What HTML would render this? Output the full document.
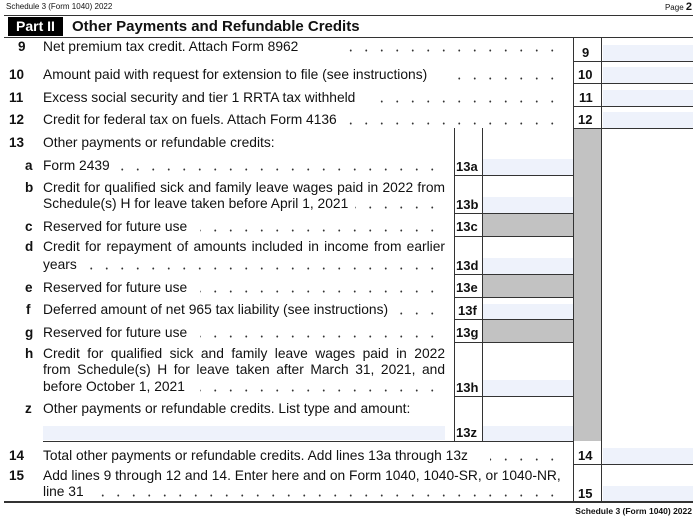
<!DOCTYPE html>
<html><head><meta charset="utf-8"><style>
*{margin:0;padding:0;box-sizing:border-box}
body{width:700px;height:520px;background:#fff;position:relative;overflow:hidden;font-family:"Liberation Sans",Arial,sans-serif;color:#111}
.a{position:absolute}
.t{position:absolute;font-size:13.8px;line-height:16px;height:16px;white-space:nowrap}
.j{position:absolute;font-size:13.8px;line-height:16px;height:16px;white-space:nowrap;width:398px;text-align:justify;text-align-last:justify}
.n{position:absolute;font-size:13.5px;font-weight:bold;line-height:16px;height:16px}
.l{position:absolute;font-size:13.5px;font-weight:bold;line-height:16px;height:16px}
.d{position:absolute;height:16px;background-image:radial-gradient(circle at 50% 72%,#333 0.8px,transparent 1.1px);background-size:15.5px 16px;background-position:right 0;background-repeat:repeat-x}
.hl{position:absolute;background:#333;height:1.5px}
.vl{position:absolute;background:#333;width:1.5px}
.blue{position:absolute;background:#eef2fb}
.gray{position:absolute;background:#c2c2c2}
.bl{position:absolute;font-size:13px;font-weight:bold;line-height:16px}
</style></head><body>
<div class="a" style="left:6px;top:2px;font-size:8px">Schedule 3 (Form 1040) 2022</div>
<div class="a" style="right:8px;top:1px;font-size:8px">Page <b style="font-size:11px">2</b></div>
<div class="hl" style="left:4px;width:689px;top:14.5px;height:1.5px"></div>
<div class="a" style="left:8px;top:17px;width:55px;height:19px;background:#000;color:#fff;font-weight:bold;font-size:14px;line-height:19px;text-align:center">Part II</div>
<div class="a" style="left:72px;top:17px;font-weight:bold;font-size:15px;line-height:19px">Other Payments and Refundable Credits</div>
<div class="hl" style="left:4px;width:689px;top:36.5px"></div>

<div class="gray" style="left:573px;top:128px;width:28px;height:313px"></div>
<div class="blue" style="left:603px;top:45px;width:90px;height:16px"></div>
<div class="blue" style="left:603px;top:67px;width:90px;height:16px"></div>
<div class="blue" style="left:603px;top:90px;width:90px;height:16px"></div>
<div class="blue" style="left:603px;top:112px;width:90px;height:16px"></div>
<div class="blue" style="left:483px;top:159px;width:90px;height:16px"></div>
<div class="blue" style="left:483px;top:197px;width:90px;height:16px"></div>
<div class="gray" style="left:483px;top:213px;width:90px;height:23px"></div>
<div class="blue" style="left:483px;top:258px;width:90px;height:16px"></div>
<div class="gray" style="left:483px;top:274px;width:90px;height:23px"></div>
<div class="blue" style="left:483px;top:304px;width:90px;height:15px"></div>
<div class="gray" style="left:483px;top:319px;width:90px;height:23px"></div>
<div class="blue" style="left:483px;top:380px;width:90px;height:16px"></div>
<div class="blue" style="left:483px;top:426px;width:90px;height:15px"></div>
<div class="blue" style="left:43px;top:426px;width:402px;height:14px"></div>
<div class="blue" style="left:603px;top:448px;width:90px;height:16px"></div>
<div class="blue" style="left:603px;top:486px;width:90px;height:16px"></div>

<div class="vl" style="left:572.5px;top:37px;height:465px"></div>
<div class="vl" style="left:600.5px;top:37px;height:465px"></div>
<div class="vl" style="left:453.5px;top:128px;height:313px"></div>
<div class="vl" style="left:481.5px;top:128px;height:313px"></div>
<div class="hl" style="left:573px;width:120px;top:60.5px"></div>
<div class="hl" style="left:573px;width:120px;top:82.5px"></div>
<div class="hl" style="left:573px;width:120px;top:105.5px"></div>
<div class="hl" style="left:573px;width:120px;top:127.5px"></div>
<div class="hl" style="left:454px;width:119px;top:174.5px"></div>
<div class="hl" style="left:454px;width:119px;top:212.5px"></div>
<div class="hl" style="left:454px;width:119px;top:235.5px"></div>
<div class="hl" style="left:454px;width:119px;top:273.5px"></div>
<div class="hl" style="left:454px;width:119px;top:296.5px"></div>
<div class="hl" style="left:454px;width:119px;top:318.5px"></div>
<div class="hl" style="left:454px;width:119px;top:341.5px"></div>
<div class="hl" style="left:454px;width:119px;top:395.5px"></div>
<div class="hl" style="left:43px;width:530px;top:440.5px"></div>
<div class="hl" style="left:573px;width:120px;top:463.5px"></div>
<div class="hl" style="left:4px;width:689px;top:501px;height:2px"></div>

<div class="bl" style="left:582px;top:45px">9</div>
<div class="bl" style="left:578px;top:67px">10</div>
<div class="bl" style="left:579px;top:90px">11</div>
<div class="bl" style="left:578px;top:112px">12</div>
<div class="bl" style="left:456px;top:159px">13a</div>
<div class="bl" style="left:456px;top:197px">13b</div>
<div class="bl" style="left:456px;top:219px">13c</div>
<div class="bl" style="left:456px;top:258px">13d</div>
<div class="bl" style="left:456px;top:280px">13e</div>
<div class="bl" style="left:458px;top:303px">13f</div>
<div class="bl" style="left:456px;top:325px">13g</div>
<div class="bl" style="left:456px;top:380px">13h</div>
<div class="bl" style="left:456px;top:425px">13z</div>
<div class="bl" style="left:578px;top:448px">14</div>
<div class="bl" style="left:578px;top:486px">15</div>

<div class="n" style="left:18px;top:39px">9</div>
<div class="t" style="left:43px;top:39px">Net premium tax credit. Attach Form 8962</div>
<div class="d" style="left:345px;width:215px;top:39px"></div>

<div class="n" style="left:9px;top:67px">10</div>
<div class="t" style="left:43px;top:67px">Amount paid with request for extension to file (see instructions)</div>
<div class="d" style="left:450px;width:110px;top:67px"></div>

<div class="n" style="left:9px;top:90px">11</div>
<div class="t" style="left:43px;top:90px">Excess social security and tier 1 RRTA tax withheld</div>
<div class="d" style="left:375px;width:185px;top:90px"></div>

<div class="n" style="left:9px;top:112px">12</div>
<div class="t" style="left:43px;top:112px">Credit for federal tax on fuels. Attach Form 4136</div>
<div class="d" style="left:345px;width:215px;top:112px"></div>

<div class="n" style="left:9px;top:135px">13</div>
<div class="t" style="left:43px;top:135px">Other payments or refundable credits:</div>

<div class="l" style="left:25px;top:158px">a</div>
<div class="t" style="left:43px;top:158px">Form 2439</div>
<div class="d" style="left:120px;width:320px;top:158px"></div>

<div class="l" style="left:25px;top:180px">b</div>
<div class="j" style="left:43px;top:180px;width:402px">Credit for qualified sick and family leave wages paid in 2022 from</div>
<div class="t" style="left:43px;top:196px">Schedule(s) H for leave taken before April 1, 2021</div>
<div class="d" style="left:355px;width:85px;top:196px"></div>

<div class="l" style="left:25px;top:219px">c</div>
<div class="t" style="left:43px;top:219px">Reserved for future use</div>
<div class="d" style="left:200px;width:240px;top:219px"></div>

<div class="l" style="left:25px;top:239px">d</div>
<div class="j" style="left:43px;top:239px;width:402px">Credit for repayment of amounts included in income from earlier</div>
<div class="t" style="left:43px;top:257px">years</div>
<div class="d" style="left:78px;width:362px;top:257px"></div>

<div class="l" style="left:25px;top:280px">e</div>
<div class="t" style="left:43px;top:280px">Reserved for future use</div>
<div class="d" style="left:200px;width:240px;top:280px"></div>

<div class="l" style="left:26px;top:302px">f</div>
<div class="t" style="left:43px;top:302px">Deferred amount of net 965 tax liability (see instructions)</div>
<div class="d" style="left:400px;width:40px;top:302px"></div>

<div class="l" style="left:25px;top:325px">g</div>
<div class="t" style="left:43px;top:325px">Reserved for future use</div>
<div class="d" style="left:200px;width:240px;top:325px"></div>

<div class="l" style="left:25px;top:346px">h</div>
<div class="j" style="left:43px;top:346px;width:402px">Credit for qualified sick and family leave wages paid in 2022</div>
<div class="j" style="left:43px;top:362px;width:402px">from Schedule(s) H for leave taken after March 31, 2021, and</div>
<div class="t" style="left:43px;top:379px">before October 1, 2021</div>
<div class="d" style="left:200px;width:240px;top:379px"></div>

<div class="l" style="left:25px;top:401px">z</div>
<div class="t" style="left:43px;top:401px">Other payments or refundable credits. List type and amount:</div>

<div class="n" style="left:9px;top:448px">14</div>
<div class="t" style="left:43px;top:448px">Total other payments or refundable credits. Add lines 13a through 13z</div>
<div class="d" style="left:490px;width:70px;top:448px"></div>

<div class="n" style="left:9px;top:468px">15</div>
<div class="t" style="left:43px;top:468px">Add lines 9 through 12 and 14. Enter here and on Form 1040, 1040-SR, or 1040-NR,</div>
<div class="t" style="left:43px;top:484px">line 31</div>
<div class="d" style="left:92px;width:468px;top:484px"></div>

<div class="a" style="right:8px;top:506px;font-size:8.5px;font-weight:bold">Schedule 3 (Form 1040) 2022</div>
</body></html>
